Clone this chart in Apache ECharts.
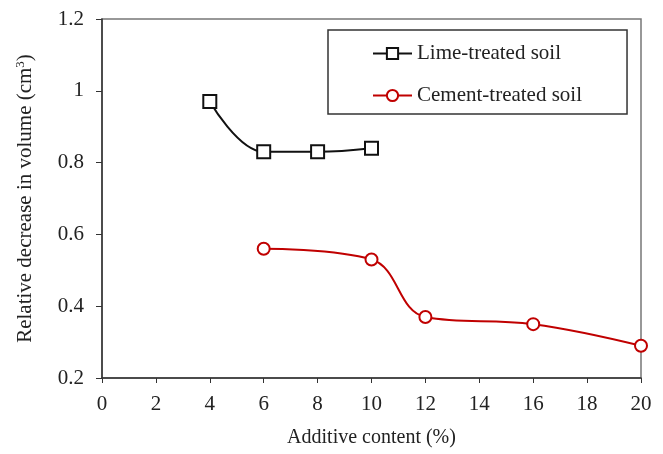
<!DOCTYPE html>
<html><head><meta charset="utf-8">
<script src="https://cdn.jsdelivr.net/npm/echarts@6/dist/echarts.min.js"></script>
<style>html,body{margin:0;padding:0;background:#fff}#c{width:663px;height:454px}</style>
</head><body><div id="c"></div>
<script>
const limeX = [4, 6, 8, 10];
const limeY = [0.97, 0.83, 0.83, 0.84];
const cementX = [6, 10, 12, 16, 20];
const cementY = [0.56, 0.53, 0.37, 0.35, 0.29];
const seriesNames = ['Lime-treated soil', 'Cement-treated soil'];
const xTitle = 'Additive content (%)';
const yTitleMain = 'Relative decrease in volume (cm';
const yTitleSup = '3';
const yTitleEnd = ')';

const font = 'Liberation Serif';
const chart = echarts.init(document.getElementById('c'));
const zip = (a, b) => a.map((v, i) => [v, b[i]]);
chart.setOption({
  animation: false,
  grid: { left: 102, right: 22, top: 19, bottom: 76, show: true, borderColor: '#777', borderWidth: 1.5 },
  legend: {
    orient: 'vertical', left: 328, top: 30,
    padding: [13, 45, 8, 44], itemGap: 21, itemWidth: 39, itemHeight: 14,
    borderColor: '#333', borderWidth: 1.5,
    textStyle: { fontFamily: font, fontSize: 21, color: '#222' },
    data: seriesNames
  },
  xAxis: {
    type: 'value', min: 0, max: 20, interval: 2,
    name: xTitle, nameLocation: 'middle', nameGap: 50,
    nameTextStyle: { fontFamily: font, fontSize: 20, color: '#222' },
    axisLine: { lineStyle: { color: '#333', width: 1.5 } },
    axisTick: { show: true, inside: false, length: 5, lineStyle: { color: '#333' } },
    axisLabel: { fontFamily: font, fontSize: 21, color: '#222', margin: 16 },
    splitLine: { show: false }
  },
  yAxis: {
    type: 'value', min: 0.2, max: 1.2, interval: 0.2,
    name: '{a|' + yTitleMain + '}{s|' + yTitleSup + '}{a|' + yTitleEnd + '}',
    nameLocation: 'middle', nameGap: 66,
    nameTextStyle: { fontFamily: font, fontSize: 21, color: '#222',
      rich: {
        a: { fontFamily: font, fontSize: 21, color: '#222', lineHeight: 22 },
        s: { fontFamily: font, fontSize: 13, color: '#222', lineHeight: 22, verticalAlign: 'top' }
      } },
    axisLine: { show: true, lineStyle: { color: '#333', width: 1.5 } },
    axisTick: { show: true, inside: false, length: 6, lineStyle: { color: '#333' } },
    axisLabel: { fontFamily: font, fontSize: 21, color: '#222', margin: 18,
      formatter: v => String(parseFloat(v.toFixed(1))) },
    splitLine: { show: false }
  },
  series: [
    { name: seriesNames[0], type: 'line', data: zip(limeX, limeY), smooth: 0.4,
      symbol: 'rect', symbolSize: 13,
      lineStyle: { color: '#111', width: 2 },
      itemStyle: { color: '#fff', borderColor: '#111', borderWidth: 2 } },
    { name: seriesNames[1], type: 'line', data: zip(cementX, cementY), smooth: 0.4,
      symbol: 'circle', symbolSize: 12,
      lineStyle: { color: '#c00000', width: 2 },
      itemStyle: { color: '#fff', borderColor: '#c00000', borderWidth: 2 } }
  ]
});
</script></body></html>
